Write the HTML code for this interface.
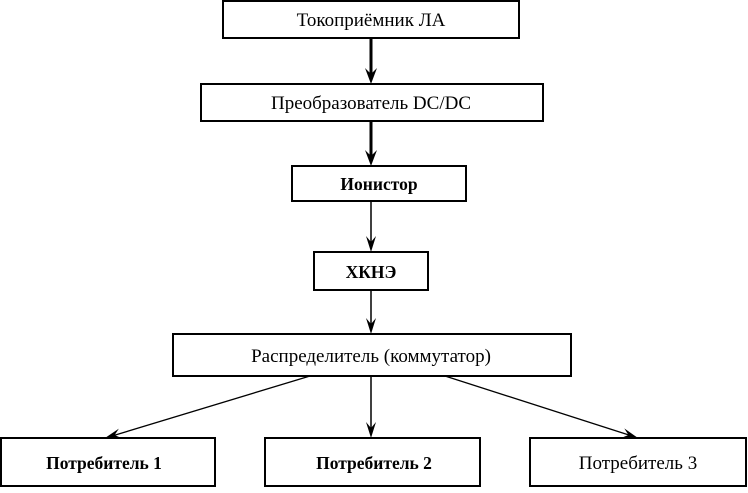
<!DOCTYPE html>
<html><head><meta charset="utf-8"><style>
html,body{margin:0;padding:0;background:#fff;}
svg text{font-family:"Liberation Serif","Noto Serif CJK SC",serif;font-size:19px;fill:#000;text-anchor:middle;}
svg text.b{font-size:17.5px;font-weight:bold;}
</style></head><body>
<svg width="748" height="488" viewBox="0 0 748 488" xmlns="http://www.w3.org/2000/svg">
<g fill="none" stroke="#000" stroke-width="2">
<rect x="223" y="1" width="296" height="37"/>
<rect x="201" y="84" width="342" height="37"/>
<rect x="292" y="166" width="174" height="35"/>
<rect x="314" y="252" width="114" height="38"/>
<rect x="173" y="334" width="398" height="42"/>
<rect x="1" y="438" width="214" height="48"/>
<rect x="265" y="438" width="215" height="48"/>
<rect x="530" y="438" width="216" height="48"/>
</g>
<g stroke="#000" fill="none">
<line x1="371" y1="38" x2="371" y2="75" stroke-width="3"/>
<line x1="371" y1="121" x2="371" y2="157" stroke-width="3"/>
<line x1="371" y1="201" x2="371" y2="243" stroke-width="1.5"/>
<line x1="371" y1="290" x2="371" y2="325" stroke-width="1.5"/>
<line x1="371" y1="376" x2="371" y2="429" stroke-width="1.5"/>
<line x1="310" y1="376" x2="112" y2="436" stroke-width="1.3"/>
<line x1="445" y1="376" x2="632" y2="436" stroke-width="1.3"/>
</g>
<g fill="#000">
<path d="M365,68 L371,84 L377,68 L371,74 Z"/>
<path d="M365,150 L371,166 L377,150 L371,156 Z"/>
<path d="M366,236 L371,252 L376,236 L371,242 Z"/>
<path d="M366,318 L371,334 L376,318 L371,324 Z"/>
<path d="M366,422 L371,438 L376,422 L371,428 Z"/>
<g transform="translate(105,438) rotate(163.2)"><path d="M0,0 L-16,-5 L-10,0 L-16,5 Z"/></g>
<g transform="translate(638,438) rotate(17.8)"><path d="M0,0 L-16,-5 L-10,0 L-16,5 Z"/></g>
</g>
<text x="371" y="26">Токоприёмник ЛА</text>
<text x="371" y="109">Преобразователь DC/DC</text>
<text class="b" x="379" y="190">Ионистор</text>
<text class="b" x="371" y="278">ХКНЭ</text>
<text x="371" y="362">Распределитель (коммутатор)</text>
<text class="b" x="104" y="469">Потребитель 1</text>
<text class="b" x="374" y="469">Потребитель 2</text>
<text x="638" y="469">Потребитель 3</text>
</svg>
</body></html>
